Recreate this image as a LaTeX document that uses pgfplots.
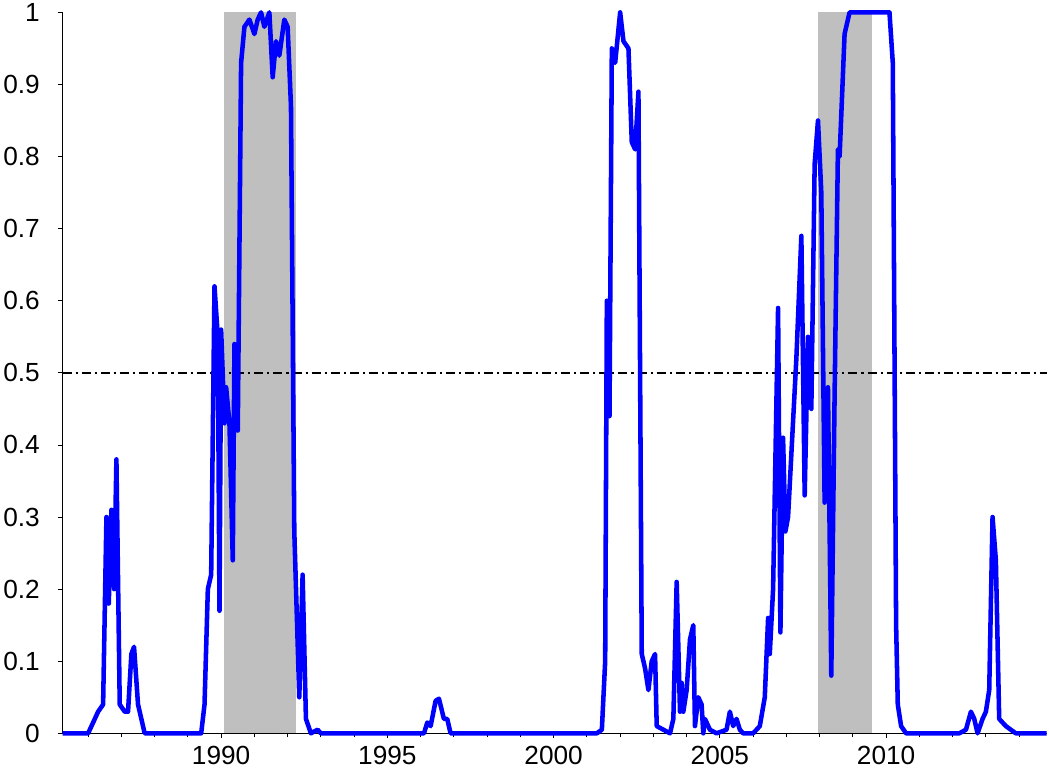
\documentclass[border=0pt]{standalone}
\usepackage{pgfplots}
\pgfplotsset{compat=1.18}
\usepackage{fontspec}
\setmainfont{Liberation Sans}
\begin{document}
\begin{tikzpicture}
\begin{axis}[
  width=972bp, height=712bp, scale only axis,
  axis x line*=bottom, axis y line*=left,
  xmin=1985.23, xmax=2014.83, ymin=0, ymax=1,
  xtick={1990,1995,2000,2005,2010},
  minor xtick={1986,...,2014},
  ytick={0,0.1,...,1.0},
  yticklabels={0,0.1,0.2,0.3,0.4,0.5,0.6,0.7,0.8,0.9,1},
  xticklabel style={/pgf/number format/1000 sep={}},
  tick align=outside, tick style={black,thick}, major tick length=5pt, minor tick length=4pt,
  tick label style={font=\fontsize{26}{29}\selectfont},
  /pgf/number format/assume math mode=true,
  xticklabel style={yshift=-4pt},
  yticklabel style={xshift=-14pt},
  axis line style={black,thin},
  clip=false,
]
\fill[gray!50] (axis cs:1990.09,0) rectangle (axis cs:1992.25,1);
\fill[gray!50] (axis cs:2007.95,0) rectangle (axis cs:2009.56,1);
\addplot[black, line width=1.8pt, dash pattern=on 9pt off 4pt on 2pt off 4pt] coordinates {(1985.23,0.5) (2014.83,0.5)};
\addplot[blue, line width=4.5pt, line join=round] coordinates {
(1985.23,0) (1986.0,0) (1986.3,0.03) (1986.45,0.04) (1986.55,0.3) (1986.62,0.18) (1986.7,0.31) (1986.78,0.2) (1986.85,0.38) (1986.95,0.04) (1987.1,0.03) (1987.2,0.03) (1987.3,0.11) (1987.38,0.12) (1987.5,0.04) (1987.6,0.02) (1987.7,0) (1989.4,0) (1989.5,0.04) (1989.6,0.2) (1989.7,0.22) (1989.8,0.62) (1989.9,0.55) (1989.95,0.17) (1990.0,0.56) (1990.1,0.43) (1990.15,0.48) (1990.25,0.43) (1990.35,0.24) (1990.4,0.54) (1990.5,0.42) (1990.6,0.93) (1990.7,0.98) (1990.85,0.99) (1991.0,0.97) (1991.1,0.99) (1991.2,1.0) (1991.3,0.98) (1991.45,1.0) (1991.55,0.91) (1991.65,0.96) (1991.75,0.94) (1991.9,0.99) (1992.0,0.98) (1992.1,0.87) (1992.2,0.28) (1992.35,0.05) (1992.45,0.22) (1992.55,0.02) (1992.7,0) (1992.9,0.005) (1993.0,0) (1996.1,0) (1996.2,0.015) (1996.3,0.01) (1996.45,0.045) (1996.55,0.048) (1996.7,0.02) (1996.8,0.02) (1996.9,0) (2001.3,0) (2001.45,0.005) (2001.55,0.1) (2001.6,0.6) (2001.68,0.44) (2001.75,0.95) (2001.85,0.93) (2002.0,1.0) (2002.1,0.96) (2002.25,0.95) (2002.35,0.82) (2002.45,0.81) (2002.55,0.89) (2002.65,0.11) (2002.75,0.09) (2002.85,0.06) (2002.95,0.1) (2003.05,0.11) (2003.1,0.01) (2003.3,0.005) (2003.5,0) (2003.6,0.02) (2003.7,0.21) (2003.8,0.03) (2003.85,0.07) (2003.9,0.03) (2004.0,0.06) (2004.1,0.13) (2004.2,0.15) (2004.25,0.01) (2004.35,0.05) (2004.45,0.04) (2004.5,0.0) (2004.55,0.02) (2004.7,0.005) (2004.9,0) (2005.2,0.005) (2005.3,0.03) (2005.4,0.01) (2005.5,0.02) (2005.6,0.005) (2005.7,0) (2006.0,0) (2006.2,0.01) (2006.35,0.05) (2006.45,0.16) (2006.5,0.11) (2006.6,0.2) (2006.75,0.59) (2006.82,0.14) (2006.9,0.41) (2006.97,0.28) (2007.05,0.3) (2007.3,0.52) (2007.45,0.69) (2007.55,0.33) (2007.65,0.55) (2007.75,0.45) (2007.85,0.79) (2007.95,0.85) (2008.05,0.75) (2008.15,0.32) (2008.25,0.48) (2008.35,0.08) (2008.45,0.47) (2008.55,0.81) (2008.6,0.8) (2008.75,0.97) (2008.9,1.0) (2010.1,1.0) (2010.2,0.93) (2010.3,0.15) (2010.35,0.04) (2010.45,0.01) (2010.6,0) (2012.2,0) (2012.4,0.005) (2012.55,0.03) (2012.65,0.02) (2012.75,0.0) (2012.9,0.02) (2013.0,0.03) (2013.1,0.06) (2013.2,0.3) (2013.3,0.24) (2013.4,0.02) (2013.6,0.01) (2013.9,0) (2014.83,0)
};
\end{axis}
\end{tikzpicture}
\end{document}
